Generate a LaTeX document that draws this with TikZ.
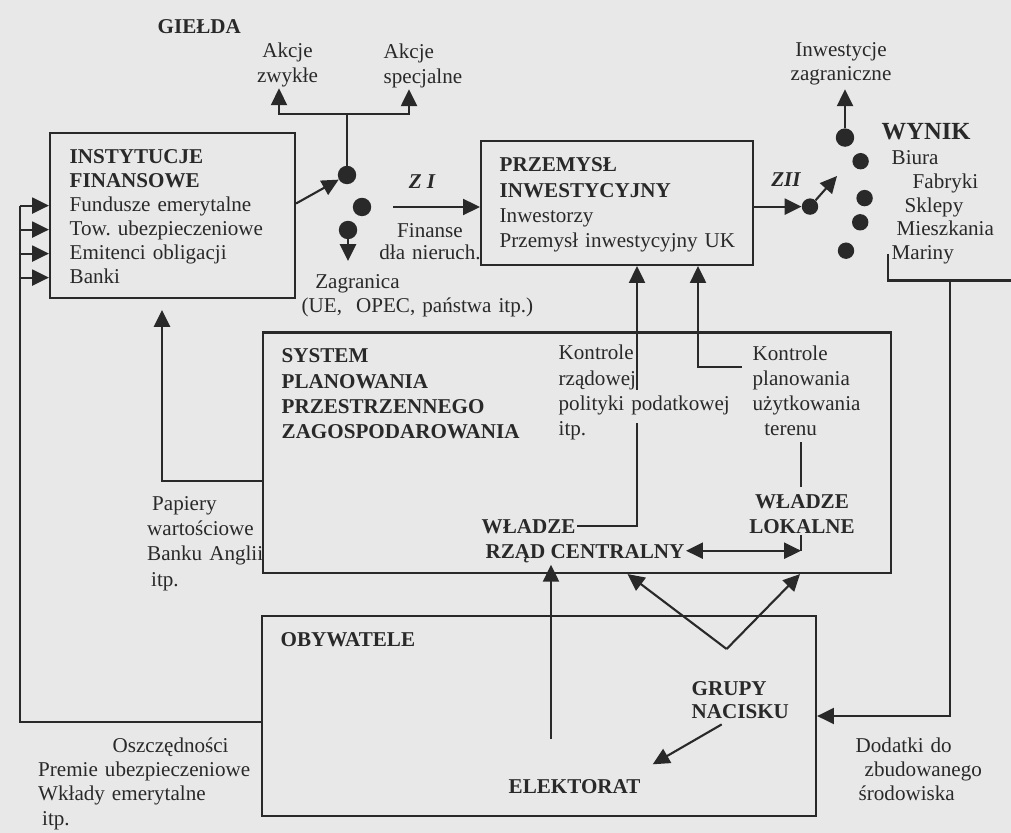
\documentclass[tikz,border=0pt]{standalone}
\usepackage{fontspec}
\setmainfont{Liberation Serif}
\usetikzlibrary{arrows.meta,calc}
\definecolor{ink}{gray}{0.16}
\definecolor{paper}{gray}{0.91}
\tikzset{
  ln/.style={draw=ink, line width=1.5pt},
  arr/.style={ln, -{Triangle[length=0.42cm,width=0.4cm]}},
  arrr/.style={ln, {Triangle[length=0.42cm,width=0.4cm]}-{Triangle[length=0.42cm,width=0.4cm]}},
  boxn/.style={draw=ink, line width=1.5pt, inner sep=0pt, rectangle},
  dotn/.style={circle, fill=ink, inner sep=0pt, minimum size=0.46cm},
  sdot/.style={circle, fill=ink, inner sep=0pt, minimum size=0.41cm},
  txt/.style={inner sep=1pt, text=ink, font=\fontsize{15}{17.5}\selectfont, anchor=base west, align=left},
  btxt/.style={txt, font=\fontsize{15}{17.5}\selectfont\bfseries},
}
\begin{document}
\begin{tikzpicture}[x=0.025cm,y=-0.025cm]
\useasboundingbox (0,0) rectangle (1011,833);
\fill[paper] (0,0) rectangle (1011,833);
\begin{scope}[yshift=0.175cm]
% boxes
\node[boxn, minimum width=6.125cm, minimum height=4.125cm] (fin) at (172.5,222.5) {};
\node[boxn, minimum width=6.8cm, minimum height=3.1cm] (prz) at (617,210) {};
\node[boxn, minimum width=15.7cm, minimum height=6.0125cm] (sys) at (577,459.75) {};
\node[boxn, minimum width=13.85cm, minimum height=5cm] (oby) at (539,723) {};
% dots
\node[dotn] (d1) at (347,182) {};
\node[dotn] (d2) at (362,214) {};
\node[dotn] (d3) at (348,237) {};
\node[sdot] (dz) at (810,213.6) {};
\node[dotn] (w0) at (845,144.6) {};
\node[sdot] (w1) at (860.6,168.2) {};
\node[sdot] (w2) at (864.6,205.1) {};
\node[sdot] (w3) at (860.2,229.3) {};
\node[sdot] (w4) at (846,257.7) {};
% texts
\node[btxt] (giel) at (156,41) {GIEŁDA};
\node[txt, text width=2cm, align=center, anchor=base] (akz) at (287.5,64.5) {Akcje\\zwykłe};
\node[txt, text width=2.2cm] (aks) at (382,65.5) {Akcje\\specjalne};
\node[txt, text width=5.6cm, font=\fontsize{15}{17.07}\selectfont] (fintxt) at (68,170.6)
  {\textbf{INSTYTUCJE}\\\textbf{FINANSOWE}\\Fundusze emerytalne\\Tow.\ ubezpieczeniowe\\Emitenci obligacji\\Banki};
\node[txt, text width=6cm, font=\fontsize{15}{17}\selectfont] (zag) at (300,295.5)
  {\hspace*{0.34cm}Zagranica\\(UE,\ \ OPEC, państwa itp.)};
\node[txt, font=\fontsize{15}{17}\selectfont\bfseries\itshape, anchor=base] (zi) at (422,196) {Z I};
\node[txt, text width=2.8cm, align=center, anchor=base, font=\fontsize{15}{15.3}\selectfont] (fnr) at (430,245)
  {Finanse\\dła nieruch.};
\node[txt, text width=6.2cm, font=\fontsize{15}{18}\selectfont] (przt) at (498,179)
  {\textbf{PRZEMYSŁ}\\\textbf{INWESTYCYJNY}\\Inwestorzy\\Przemysł inwestycyjny UK};
\node[txt, font=\fontsize{15}{17}\selectfont\bfseries\itshape, anchor=base] (zii) at (786,194) {ZII};
\node[txt, text width=3cm, align=center, anchor=base, font=\fontsize{15}{16.4}\selectfont] (inwz) at (841,64)
  {Inwestycje\\zagraniczne};
\node[txt, font=\fontsize{17.5}{20}\selectfont\bfseries] (wyn) at (880,146.5) {WYNIK};
\node[txt, text width=3cm, font=\fontsize{15}{16.9}\selectfont] (wlist) at (890,171.5)
  {Biura\\\hspace*{0.525cm}Fabryki\\\hspace*{0.325cm}Sklepy\\\hspace*{0.125cm}Mieszkania\\Mariny};
\node[txt, text width=9cm, font=\fontsize{15}{17.8}\selectfont\bfseries] (syst) at (280,370)
  {SYSTEM\\PLANOWANIA\\PRZESTRZENNEGO\\ZAGOSPODAROWANIA};
\node[txt, text width=5cm, font=\fontsize{15}{17.8}\selectfont] (kr) at (557,367)
  {Kontrole\\rządowej\\polityki podatkowej\\itp.};
\node[txt, text width=4cm, font=\fontsize{15}{17.8}\selectfont] (kp) at (751,367.5)
  {Kontrole\\planowania\\użytkowania\\\hspace*{0.29cm}terenu};
\node[btxt, text width=3cm, align=center, anchor=base, font=\fontsize{15}{17.8}\selectfont\bfseries] (lok) at (802,515.3)
  {WŁADZE\\LOKALNE};
\node[btxt] (wc) at (480,540) {WŁADZE};
\node[btxt] (rzad) at (484,565.7) {RZĄD CENTRALNY};
\node[txt, text width=3cm, font=\fontsize{15}{18.1}\selectfont] (pap) at (145.5,517)
  {\hspace*{0.125cm}Papiery\\wartościowe\\Banku Anglii\\\hspace*{0.1cm}itp.};
\node[btxt] (obyt) at (279,653) {OBYWATELE};
\node[btxt, text width=3cm, font=\fontsize{15}{16.4}\selectfont\bfseries] (grp) at (690,702) {GRUPY\\NACISKU};
\node[btxt] (elek) at (507,800) {ELEKTORAT};
\node[txt, text width=6cm, font=\fontsize{15}{17.4}\selectfont] (osz) at (36.5,759)
  {\hspace*{1.86cm}Oszczędności\\Premie ubezpieczeniowe\\Wkłady emerytalne\\\hspace*{0.1cm}itp.};
\node[txt, text width=4cm, font=\fontsize{15}{17.1}\selectfont] (dod) at (854,759)
  {Dodatki do\\\hspace*{0.225cm}zbudowanego\\\hspace*{0.075cm}środowiska};
% left loop: citizens -> financial institutions
\coordinate (lpb) at (20,729);
\coordinate (lf1) at (20,212.6);
\coordinate (lf2) at (20,236.6);
\coordinate (lf3) at (20,260.6);
\coordinate (lf4) at (20,284.6);
\draw[ln] (oby.west |- lpb) -- (lpb) -- (lf1);
\foreach \c in {lf1,lf2,lf3,lf4} \draw[arr] (\c) -- (\c -| fin.west);
% financial institutions -> dots
\draw[arr] ([yshift=0.3cm]fin.east) -- (d1);
\coordinate (br) at (347,121);
\draw[ln] (d1) -- (br);
\draw[arr] (br) -| (279,0 |- akz.south);
\draw[arr] (br) -| (409,0 |- aks.south);
\coordinate (zt) at (348,268);
\draw[arr] (d3) -- (zt);
\draw[arr] ([xshift=0.55cm]d2.east) -- (d2.east -| prz.west);
% investment industry -> result
\draw[arr] (dz -| prz.east) -- (dz);
\coordinate (zt2) at (837,183);
\draw[arr] (dz) -- (zt2);
\draw[arr, shorten >=0.075cm] (w0) -- (w0 |- inwz.south);
% result box corner -> citizens
\coordinate (wb1) at (888,261);
\coordinate (wb2) at (888,287.5);
\coordinate (wb3) at (1011,287.5);
\draw[ln] (wb1) -- (wb2) -- (wb3);
\coordinate (wb) at (950,287.5);
\draw[arr] (wb) |- (oby.east);
% planning system -> financial institutions
\coordinate (pt) at (162,317);
\draw[arr] (sys.west |- 0,488) -| (pt);
% central government controls
\coordinate (ka) at (637,429.5);
\coordinate (kb) at (637,396.5);
\draw[ln] (wc.east) -| (ka);
\draw[arr] (kb) -- (kb |- prz.south);
% land-use controls
\coordinate (pa) at (742,374);
\coordinate (pb) at (698,374);
\draw[arr] (pa) -- (pb) -- (pb |- prz.south);
\draw[ln, shorten <=0.12cm, shorten >=0.15cm] (801,0 |- kp.south) -- (801,0 |- lok.north);
% local <-> central
\coordinate (lc) at (801,557.7);
\draw[ln] (801,0 |- lok.south) -- (lc);
\draw[arrr] (rzad.east |- lc) -- (lc);
% electorate -> central government
\coordinate (e1) at (551,746);
\draw[arr] (e1) -- (e1 |- rzad.south);
% pressure groups
\coordinate (vtx) at (726.6,656);
\draw[arr] (vtx) -- (627.6,0 |- sys.south);
\draw[arr] (vtx) -- (800,0 |- sys.south);
\coordinate (g1) at (721.7,731.4);
\coordinate (g2) at (652.7,771.3);
\draw[arr] (g1) -- (g2);
\end{scope}
\end{tikzpicture}
\end{document}
